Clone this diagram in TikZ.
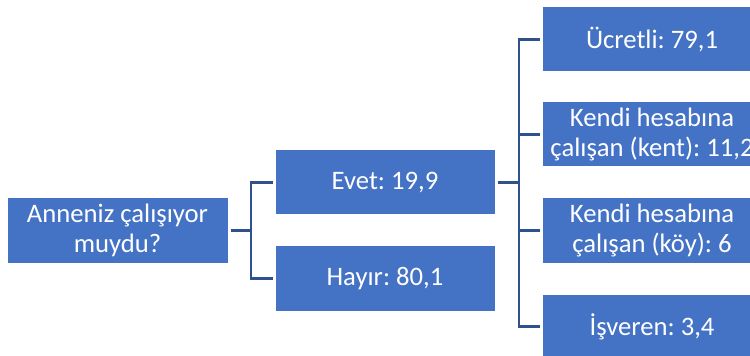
\documentclass[tikz,border=0pt]{standalone}
\usepackage{fontspec}
\setmainfont{Carlito}
\definecolor{boxblue}{HTML}{4472C4}
\definecolor{linkblue}{HTML}{2F528F}
\begin{document}
\frenchspacing
\begin{tikzpicture}[x=0.75pt,y=-0.75pt,
  box/.style={draw=white,line width=0.75pt,fill=boxblue,text=white,align=center,
    minimum width=165pt,minimum height=48.75pt,inner sep=0pt,
    font=\frenchspacing\fontsize{20pt}{23pt}\selectfont},
  link/.style={draw=linkblue,line width=1.6pt}]
\useasboundingbox (0,0) rectangle (750,356);
\clip (0,0) rectangle (750,356);
\node[box,minimum width=165.75pt] (root) at (117.5,230.5) {Anneniz çalışıyor\\muydu?};
\node[box] (evet) at (385,182.5) {Evet: 19,9};
\node[box] (hayir) at (385,278.5) {Hayır: 80,1};
\node[box] (u) at (652,39.5) {Ücretli: 79,1};
\node[box] (k1) at (652,134.5) {Kendi hesabına\\çalışan (kent): 11,2};
\node[box] (k2) at (652,230.5) {Kendi hesabına\\çalışan (köy): 6};
\node[box] (i) at (652,326.5) {İşveren: 3,4};
\coordinate (j1) at (251,230.5);
\coordinate (j2) at (519,182.5);
\draw[link] ([xshift=2pt]root.east) -- (j1);
\draw[link] ([xshift=-1.5pt]evet.west) -| (j1) |- ([xshift=-1.5pt]hayir.west);
\draw[link] ([xshift=1.5pt]evet.east) -- (j2);
\draw[link] ([xshift=-1.5pt]u.west) -| (j2) |- ([xshift=-1.5pt]i.west);
\draw[link] (j2 |- k1.west) -- ([xshift=-1.5pt]k1.west);
\draw[link] (j2 |- k2.west) -- ([xshift=-1.5pt]k2.west);
\end{tikzpicture}
\end{document}
